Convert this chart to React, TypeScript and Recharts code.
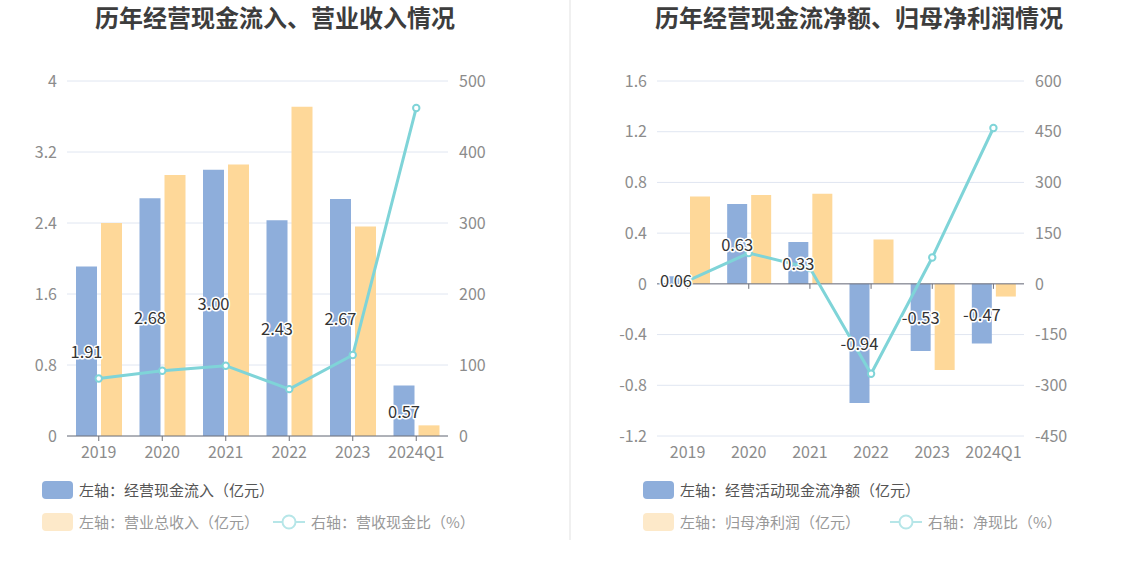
import { ComposedChart, Bar, Line, XAxis, YAxis, CartesianGrid, LabelList, ReferenceLine, Scatter } from 'recharts';

const FONT = '"Noto Sans CJK SC", "Noto Sans", sans-serif';
const BLUE = '#8eaedb';
const YELLOW = '#fed899';
const TEAL = '#7fd4d8';
const GRID = '#e0e6f1';
const AXIS = '#6e7079';
const TICK_TEXT = '#8c8c8c';

// shared categories
const periods = ['2019', '2020', '2021', '2022', '2023', '2024Q1'];

// left chart: 经营现金流入 / 营业总收入 (亿元), 营收现金比 (%)
const cashInflow = [1.91, 2.68, 3.0, 2.43, 2.67, 0.57];
const revenue = [2.4, 2.94, 3.06, 3.71, 2.36, 0.12];
const inflowRatio = [81, 92, 99, 66, 114, 462];
const leftTicksL = [0, 0.8, 1.6, 2.4, 3.2, 4];
const leftTicksR = [0, 100, 200, 300, 400, 500];

// right chart: 经营活动现金流净额 / 归母净利润 (亿元), 净现比 (%)
const netCashFlow = [0.06, 0.63, 0.33, -0.94, -0.53, -0.47];
const netProfit = [0.69, 0.7, 0.71, 0.35, -0.68, -0.1];
const netRatio = [9, 91, 47, -266, 78, 461];
const rightTicksL = [-1.2, -0.8, -0.4, 0, 0.4, 0.8, 1.2, 1.6];
const rightTicksR = [-450, -300, -150, 0, 150, 300, 450, 600];

const leftData = periods.map((p, i) => ({ period: p, a: cashInflow[i], b: revenue[i], r: inflowRatio[i] }));
const rightData = periods.map((p, i) => ({ period: p, a: netCashFlow[i], b: netProfit[i], r: netRatio[i], zero: 0 }));

const tickStyle = { fill: TICK_TEXT, fontSize: 16, fontFamily: FONT };

const valueLabel = (props: any) => {
  const { x, y, width, height, value } = props;
  return (
    <text
      x={Number(x) + Number(width) / 2}
      y={Number(y) + Number(height) / 2}
      textAnchor="middle"
      dominantBaseline="central"
      fontSize={16.5}
      fontFamily={FONT}
      fill="#333"
      stroke="#fff"
      strokeWidth={3}
      strokeLinejoin="round"
      paintOrder="stroke"
    >
      {Number(value).toFixed(2)}
    </text>
  );
};

const dotStyle = { r: 3.2, fill: '#fff', stroke: TEAL, strokeWidth: 2 };

function Legend({ left, first, second, third, lineLeft }: any) {
  const swatch = (color: string, top: number) => (
    <div style={{ position: 'absolute', left, top, width: 31, height: 18, borderRadius: 4, background: color }} />
  );
  const text = (label: string, x: number, top: number, color: string) => (
    <div style={{ position: 'absolute', left: x, top, fontSize: 15, lineHeight: '20px', color, whiteSpace: 'nowrap' }}>{label}</div>
  );
  return (
    <>
      {swatch(BLUE, 481)}
      {text(first, left + 37, 480, '#555')}
      {swatch('#fde9c9', 513)}
      {text(second, left + 37, 512, '#999')}
      <svg style={{ position: 'absolute', left: lineLeft, top: 512 }} width={32} height={20}>
        <line x1={0} x2={32} y1={10} y2={10} stroke="#b6e6e8" strokeWidth={2} />
        <circle cx={16} cy={10} r={6.5} fill="#fff" stroke="#b6e6e8" strokeWidth={2} />
      </svg>
      {text(third, lineLeft + 38, 512, '#999')}
    </>
  );
}

export default function App() {
  return (
    <div style={{ position: 'absolute', left: 0, top: 0, width: 1134, height: 582, background: '#fff', fontFamily: FONT, overflow: 'hidden' }}>
      <div style={{ position: 'absolute', left: 0, top: 3, width: 550, textAlign: 'center', fontSize: 24, lineHeight: '28px', fontWeight: 700, color: '#3d3d3d' }}>
        历年经营现金流入、营业收入情况
      </div>
      <div style={{ position: 'absolute', left: 590, top: 3, width: 538, textAlign: 'center', fontSize: 24, lineHeight: '28px', fontWeight: 700, color: '#3d3d3d' }}>
        历年经营现金流净额、归母净利润情况
      </div>
      <div style={{ position: 'absolute', left: 569, top: 0, width: 2, height: 540, background: '#f0f0f0' }} />

      <div style={{ position: 'absolute', left: 0, top: 0 }}>
        <ComposedChart width={520} height={480} data={leftData} margin={{ top: 81, right: 22, bottom: 14, left: 0 }} barSize={21} barGap={4}>
          <CartesianGrid yAxisId="l" vertical={false} stroke={GRID} />
          <XAxis dataKey="period" height={30} tick={tickStyle} tickSize={5} tickMargin={6} axisLine={{ stroke: AXIS }} tickLine={{ stroke: AXIS }} />
          <YAxis yAxisId="l" width={67} domain={[0, 4]} ticks={leftTicksL} tick={tickStyle} axisLine={false} tickLine={false} tickMargin={4} />
          <YAxis yAxisId="r" orientation="right" width={50} domain={[0, 500]} ticks={leftTicksR} tick={tickStyle} axisLine={false} tickLine={false} tickMargin={5} />
          <Bar yAxisId="l" dataKey="a" fill={BLUE} isAnimationActive={false}>
            <LabelList dataKey="a" content={valueLabel} />
          </Bar>
          <Bar yAxisId="l" dataKey="b" fill={YELLOW} isAnimationActive={false} />
          <Line yAxisId="r" dataKey="r" stroke={TEAL} strokeWidth={3} dot={dotStyle} activeDot={false} isAnimationActive={false} />
        </ComposedChart>
      </div>

      <div style={{ position: 'absolute', left: 590, top: 0 }}>
        <ComposedChart width={500} height={480} data={rightData} margin={{ top: 81, right: 16, bottom: 14, left: 0 }} barSize={20} barGap={4}>
          <CartesianGrid yAxisId="l" vertical={false} stroke={GRID} />
          <XAxis dataKey="period" height={30} tick={tickStyle} tickSize={5} tickMargin={6} axisLine={false} tickLine={false} />
          <YAxis yAxisId="l" width={67} domain={[-1.2, 1.6]} ticks={rightTicksL} tick={tickStyle} axisLine={false} tickLine={false} tickMargin={4} />
          <YAxis yAxisId="r" orientation="right" width={50} domain={[-450, 600]} ticks={rightTicksR} tick={tickStyle} axisLine={false} tickLine={false} tickMargin={5} />
          <Bar yAxisId="l" dataKey="a" fill={BLUE} isAnimationActive={false}>
            <LabelList dataKey="a" content={valueLabel} />
          </Bar>
          <Bar yAxisId="l" dataKey="b" fill={YELLOW} isAnimationActive={false} />
          <ReferenceLine yAxisId="l" y={0} stroke={AXIS} />
          <Scatter
            yAxisId="l"
            dataKey="zero"
            isAnimationActive={false}
            shape={(p: any) => <line x1={p.cx} x2={p.cx} y1={p.cy} y2={p.cy + 5} stroke={AXIS} />}
          />
          <Line yAxisId="r" dataKey="r" stroke={TEAL} strokeWidth={3} dot={dotStyle} activeDot={false} isAnimationActive={false} />
        </ComposedChart>
      </div>

      <Legend left={42} lineLeft={273} first="左轴：经营现金流入（亿元）" second="左轴：营业总收入（亿元）" third="右轴：营收现金比（%）" />
      <Legend left={643} lineLeft={890} first="左轴：经营活动现金流净额（亿元）" second="左轴：归母净利润（亿元）" third="右轴：净现比（%）" />
    </div>
  );
}
